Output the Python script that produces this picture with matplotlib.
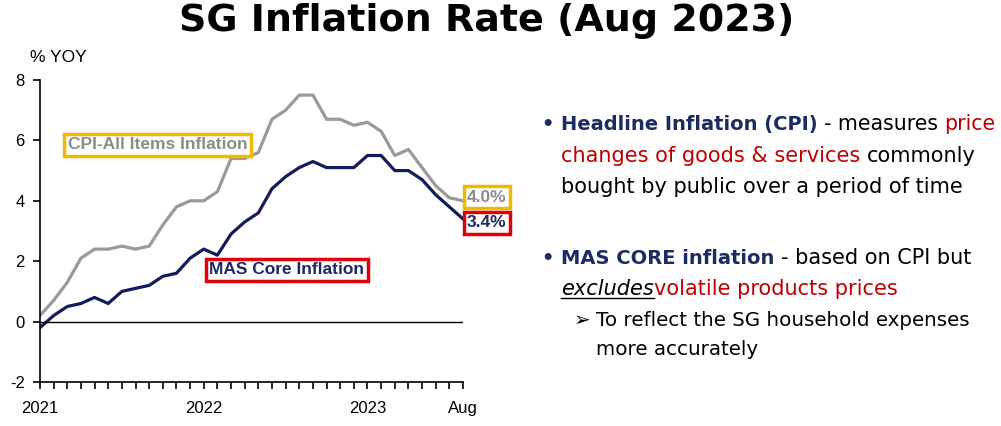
import matplotlib
matplotlib.use("Agg")
import matplotlib.pyplot as plt
from matplotlib.lines import Line2D

# monthly data Jan 2021 .. Aug 2023
months = list(range(32))
cpi_all = [0.2, 0.7, 1.3, 2.1, 2.4, 2.4, 2.5, 2.4, 2.5, 3.2, 3.8, 4.0,
           4.0, 4.3, 5.4, 5.4, 5.6, 6.7, 7.0, 7.5, 7.5, 6.7, 6.7, 6.5,
           6.6, 6.3, 5.5, 5.7, 5.1, 4.5, 4.1, 4.0]
mas_core = [-0.2, 0.2, 0.5, 0.6, 0.8, 0.6, 1.0, 1.1, 1.2, 1.5, 1.6, 2.1,
            2.4, 2.2, 2.9, 3.3, 3.6, 4.4, 4.8, 5.1, 5.3, 5.1, 5.1, 5.1,
            5.5, 5.5, 5.0, 5.0, 4.7, 4.2, 3.8, 3.4]
xtick_pos = [0, 12, 24, 31]
xtick_labels = ["2021", "2022", "2023", "Aug"]
yticks = [-2, 0, 2, 4, 6, 8]

W, H = 1001, 426
GRAY = "#9a9a9a"
NAVY = "#141c5c"
GOLD = "#f5b800"
RED = "#e0000b"
DRED = "#c00000"
TNAVY = "#1c2b64"

fig = plt.figure(figsize=(W / 100, H / 100), dpi=100)
fig.patch.set_facecolor("white")

ax = fig.add_axes([40 / W, 1 - 382 / H, 423 / W, 302 / H])
ax.plot(months, cpi_all, color=GRAY, lw=2.3, solid_joinstyle="round")
ax.plot(months, mas_core, color=NAVY, lw=2.3, solid_joinstyle="round")
ax.axhline(0, color="black", lw=1.0)
ax.set_xlim(0, 31)
ax.set_ylim(-2, 8)
for s in ["top", "right"]:
    ax.spines[s].set_visible(False)
for s in ["left", "bottom"]:
    ax.spines[s].set_linewidth(1.2)
ax.set_yticks(yticks)
ax.set_yticklabels([str(v) for v in yticks], fontsize=12, family="Liberation Sans")
ax.set_xticks(xtick_pos)
ax.set_xticklabels(xtick_labels, fontsize=12, family="Liberation Sans")
ax.set_xticks(months, minor=True)
ax.tick_params(axis="both", which="both", direction="out", length=5, width=1.2, pad=6)
ax.tick_params(axis="x", pad=9)

fig.text(30 / W, 1 - 58 / H, "% YOY", fontsize=12.5, family="Liberation Sans",
         va="center", ha="left")

box = lambda ec: dict(boxstyle="square,pad=0.2", fc="white", ec=ec, lw=2.5)
ax.text(8.6, 5.86, "CPI-All Items Inflation", color="#8c8c8c", fontsize=12.5,
        weight="bold", family="Liberation Sans", ha="center", va="center", bbox=box(GOLD))
ax.text(18.1, 1.72, "MAS Core Inflation", color=TNAVY, fontsize=12.5,
        weight="bold", family="Liberation Sans", ha="center", va="center", bbox=box(RED))
ax.text(32.75, 4.12, "4.0%", color="#8c8c8c", fontsize=12.5, weight="bold",
        family="Liberation Sans", ha="center", va="center", bbox=box(GOLD), clip_on=False)
ax.text(32.75, 3.28, "3.4%", color=TNAVY, fontsize=12.5, weight="bold",
        family="Liberation Sans", ha="center", va="center", bbox=box(RED), clip_on=False)

fig.text(487 / W, 1 - 21 / H, "SG Inflation Rate (Aug 2023)", fontsize=27.4,
         weight="bold", family="DejaVu Sans", ha="center", va="center")

# right hand bullet text, drawn run by run
renderer = fig.canvas.get_renderer()
FAM = ["DejaVu Sans"]


def width_of(t):
    return t.get_window_extent(renderer).width


def draw_runs(x, y, runs, fs=15):
    for txt, color, weight, style, under in runs:
        size = 14 if weight == "bold" else fs
        if txt == " ":
            probe1 = fig.text(0, 0, "x x", fontsize=size, family=FAM)
            probe2 = fig.text(0, 0, "xx", fontsize=size, family=FAM)
            x += width_of(probe1) - width_of(probe2)
            probe1.remove()
            probe2.remove()
            continue
        t = fig.text(x / W, 1 - y / H, txt, fontsize=size, family=FAM, color=color,
                     weight=weight, style=style, va="baseline", ha="left")
        w = width_of(t)
        if under:
            fig.add_artist(Line2D([x / W, (x + w) / W], [1 - (y + 3) / H] * 2,
                                  color=color, lw=1.0))
        x += w


SP = (" ", None, "normal", "normal", False)
draw_runs(541, 130, [("•", TNAVY, "bold", "normal", False)])
draw_runs(561, 130, [("Headline Inflation (CPI)", TNAVY, "bold", "normal", False), SP,
                     ("- measures", "black", "normal", "normal", False), SP,
                     ("price", DRED, "normal", "normal", False)], fs=14.8)
draw_runs(561, 162, [("changes of goods & services", DRED, "normal", "normal", False), SP,
                     ("commonly", "black", "normal", "normal", False)])
draw_runs(561, 193, [("bought by public over a period of time", "black", "normal", "normal", False)])
draw_runs(541, 264, [("•", TNAVY, "bold", "normal", False)])
draw_runs(561, 264, [("MAS CORE inflation", TNAVY, "bold", "normal", False), SP,
                     ("- based on CPI but", "black", "normal", "normal", False)])
draw_runs(561, 295, [("excludes", "black", "normal", "italic", True),
                     ("volatile products prices", DRED, "normal", "normal", False)])
draw_runs(574, 326, [("➢", "black", "normal", "normal", False)], fs=14.3)
draw_runs(596, 326, [("To reflect the SG household expenses", "black", "normal", "normal", False)], fs=14.3)
draw_runs(596, 355, [("more accurately", "black", "normal", "normal", False)], fs=14.3)

fig.savefig("out.png", dpi=100)
